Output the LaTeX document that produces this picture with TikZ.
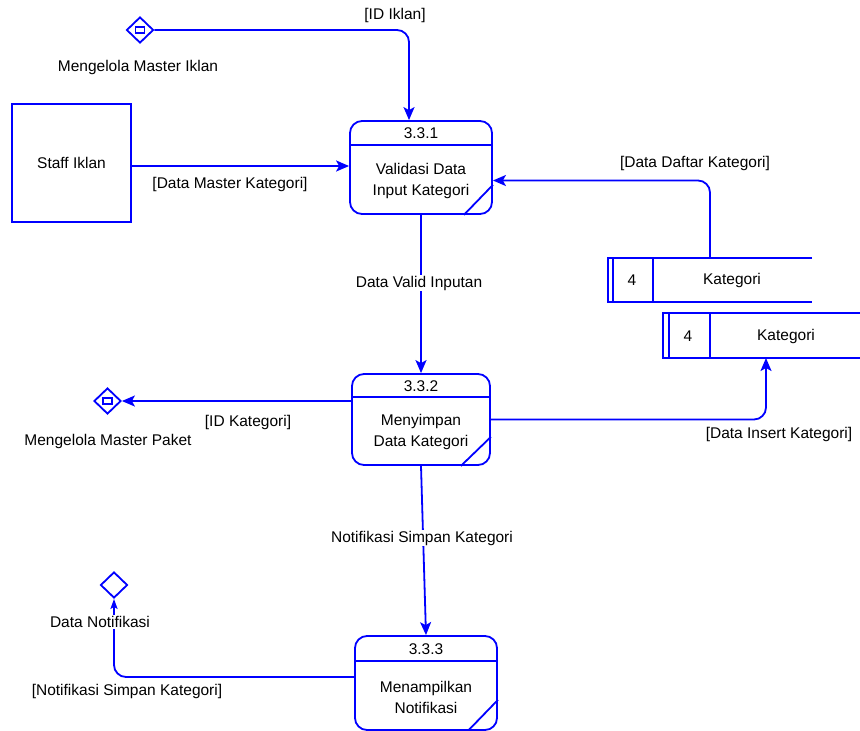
\documentclass[tikz,border=0pt]{standalone}
\usepackage{fontspec}
\setmainfont{Liberation Sans}
\usetikzlibrary{shapes.geometric,arrows.meta}

\begin{document}
\begin{tikzpicture}[x = 1pt, y = -1pt, line width = 1.8pt,
                        font = \fontsize{15.5}{21}\selectfont,
                        proc/.style = {draw = blue, rounded corners = 12pt, minimum width = 142pt, minimum height = 93pt},
                        ext/.style = {draw = blue, minimum width = 119pt, minimum height = 118pt},
                        hub/.style = {diamond, draw = blue, minimum width = 27pt, minimum height = 26pt, inner sep = 0pt},
                        tag/.style = {draw = blue, minimum width = 9pt, minimum height = 6pt, inner sep = 0pt, line width = 1.3pt},
                        flow/.style = {draw = blue, rounded corners = 12pt, -{Stealth[length = 13pt, width = 11pt, inset = 3pt]}},
                        lbl/.style = {fill = white, inner sep = 1pt}]
      \useasboundingbox (0, 0) rectangle (860, 731);

      % processes
      \node [proc] (p1) at (421, 167.5){};
      \node [proc, minimum width = 138pt, minimum height = 91pt] (p2) at (421, 419.5){};
      \node [proc, minimum height = 94pt] (p3) at (426, 683){};
      \draw [blue] ([yshift = -25pt]p1.north west) -- ([yshift = -25pt]p1.north east);
      \draw [blue] ([yshift = -24pt]p2.north west) -- ([yshift = -24pt]p2.north east);
      \draw [blue] ([yshift = -26pt]p3.north west) -- ([yshift = -26pt]p3.north east);
      \draw [blue] ([xshift = -29pt]p1.south east) -- ([yshift = 30pt]p1.south east);
      \draw [blue] ([xshift = -30pt]p2.south east) -- ([yshift = 29pt]p2.south east);
      \draw [blue] ([xshift = -30pt]p3.south east) -- ([yshift = 31pt]p3.south east);
      \node (n1) at (421, 133){3.3.1};
      \node (n2) at (421, 386){3.3.2};
      \node (n3) at (426, 649){3.3.3};
      \node [align = center] (t1) at (421, 181){Validasi Data\\Input Kategori};
      \node [align = center] (t2) at (421, 432){Menyimpan\\Data Kategori};
      \node [align = center] (t3) at (426, 697){Menampilkan\\Notifikasi};

      % external entity
      \node [ext] (staff) at (71.5, 163){Staff Iklan};

      % data stores
      \draw [blue] (812, 258) -- (608, 258) -- (608, 302) -- (812, 302);
      \draw [blue] (613, 258) -- (613, 302);
      \draw [blue] (653, 258) -- (653, 302);
      \node (s1id) at (632, 280){4};
      \node (s1) at (732, 280){Kategori};
      \draw [blue] (860, 313) -- (663, 313) -- (663, 358) -- (860, 358);
      \draw [blue] (669, 313) -- (669, 358);
      \draw [blue] (710, 313) -- (710, 358);
      \node (s2id) at (688, 336){4};
      \node (s2) at (786, 336){Kategori};
      \coordinate (s1top) at (710, 258);
      \coordinate (s2bot) at (766, 358);

      % other diagrams
      \node [hub] (d1) at (140, 30){};
      \node [tag] (d1in) at (d1){};
      \node [hub] (d2) at (107.5, 401){};
      \node [tag] (d2in) at (d2){};
      \node [hub] (d3) at (114, 585){};
      \node (l1) at (138, 67){Mengelola Master Iklan};
      \node (l2) at (108, 441){Mengelola Master Paket};

      % flows
      \draw [flow] (d1.east) -| ([xshift = -12pt]p1.north);
      \node (f1) at (395, 15){[ID Iklan]};
      \draw [flow] ([yshift = -3pt]staff.east) -- ([yshift = -3pt]staff.east -| p1.west);
      \node (f2) at (230, 184){[Data Master Kategori]};
      \draw [flow] (s1top) |- ([yshift = -13pt]p1.east);
      \node (f3) at (695, 163){[Data Daftar Kategori]};
      \draw [flow] (p1.south) -- (p2.north);
      \node [lbl] (f4) at (419, 283){Data Valid Inputan};
      \draw [flow] (d2.east -| p2.west) -- (d2.east);
      \node (f5) at (248, 422){[ID Kategori]};
      \draw [flow] (p2.east) -| (s2bot);
      \node (f6) at (779, 434){[Data Insert Kategori]};
      \draw [flow] (p2.south) -- (p3.north);
      \node [lbl] (f7) at (422, 538){Notifikasi Simpan Kategori};
      \draw [flow, -{Stealth[length = 10pt, width = 7pt, inset = 2pt]}] ([yshift = 6pt]p3.west) -| (d3.south);
      \node [lbl] (l3) at (100, 622){Data Notifikasi};
      \node (f8) at (127, 691){[Notifikasi Simpan Kategori]};
      \end{tikzpicture}
\end{document}
